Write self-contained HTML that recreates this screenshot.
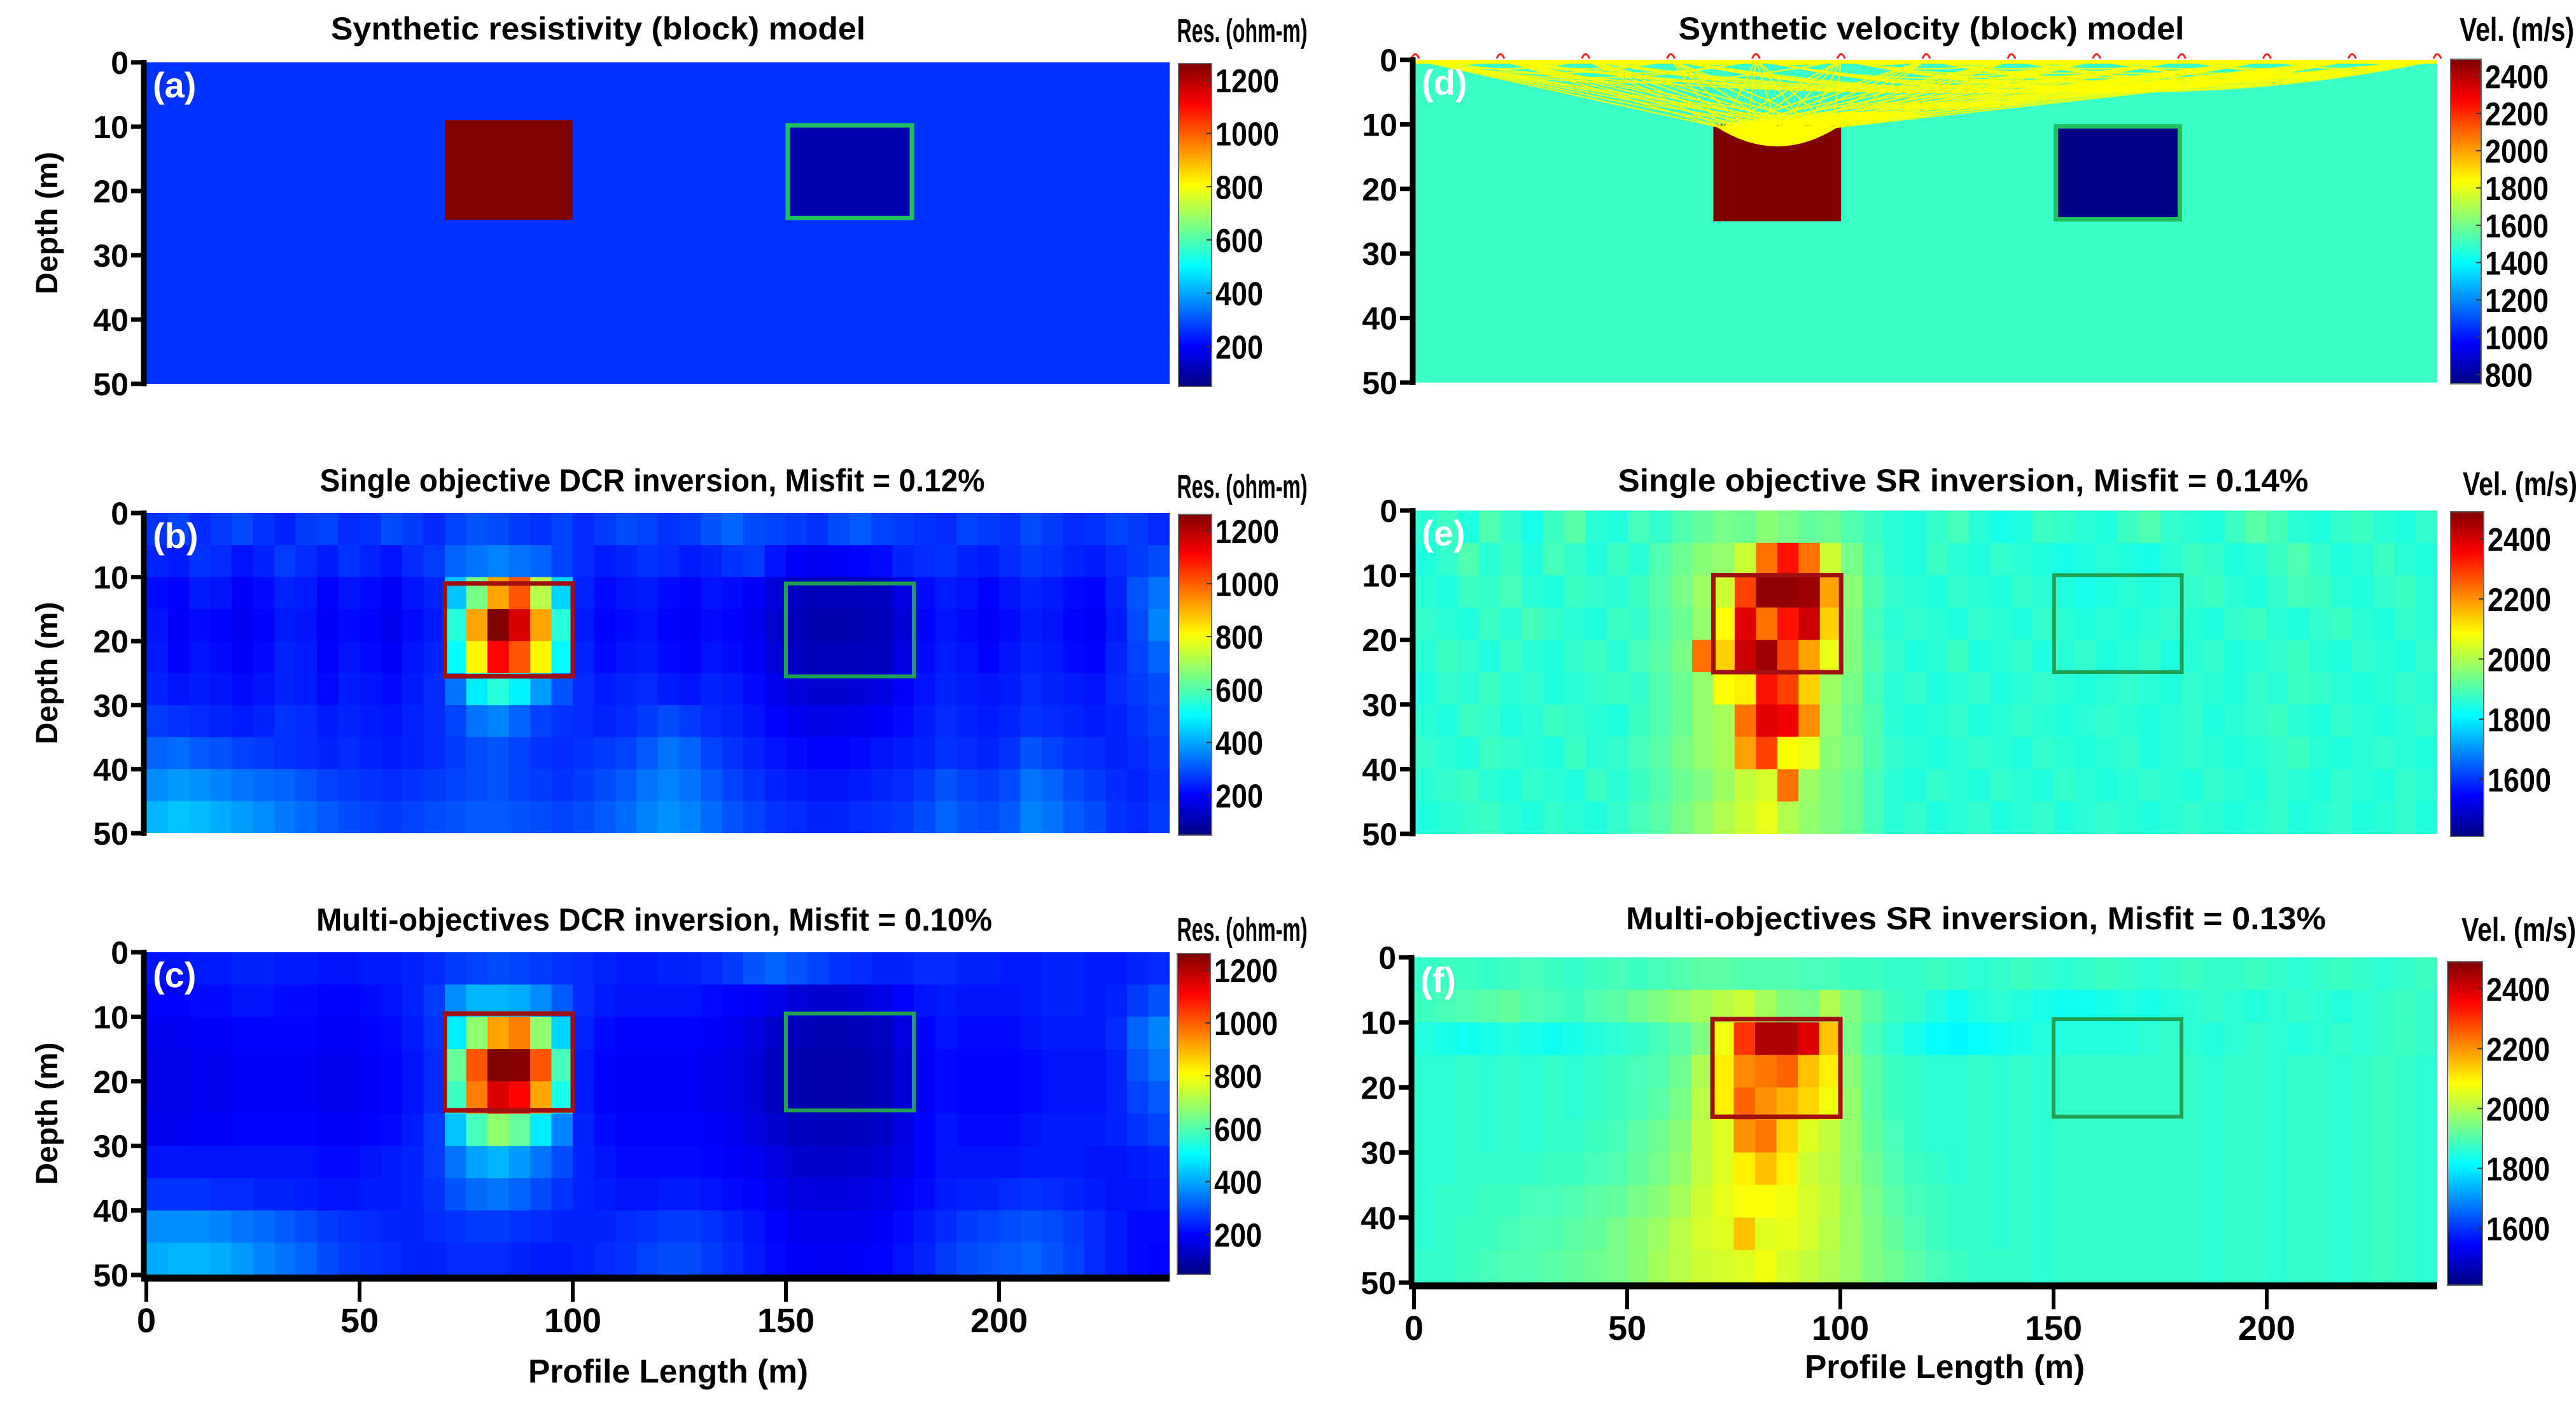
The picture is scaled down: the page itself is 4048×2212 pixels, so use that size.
<!DOCTYPE html>
<html><head><meta charset="utf-8"><style>
html,body{margin:0;padding:0;background:#fff;}
svg{display:block;font-family:"Liberation Sans",sans-serif;font-weight:bold;}
</style></head><body>
<svg id="fig" width="4048" height="2212" viewBox="0 0 4048 2212" xmlns="http://www.w3.org/2000/svg">
<defs>
<linearGradient id="jetg" x1="0" y1="1" x2="0" y2="0">
<stop offset="0" stop-color="#000080"/><stop offset="0.125" stop-color="#0000ff"/><stop offset="0.375" stop-color="#00ffff"/><stop offset="0.625" stop-color="#ffff00"/><stop offset="0.875" stop-color="#ff0000"/><stop offset="1" stop-color="#800000"/>
</linearGradient>
</defs>
</svg>
<script>
// ---------- DATA ----------
const xCellsM = 5, zCellsM = 5;
const depthTicks = [0,10,20,30,40,50];
const distTicks = [0,50,100,150,200];
const resTicks = [200,400,600,800,1000,1200];
const velTicksD = [800,1000,1200,1400,1600,1800,2000,2200,2400];
const velTicksEF = [1600,1800,2000,2200,2400];
// block models: [x0,x1,z0,z1,value]
const resBlocks = [[70,100,9,24.5,1260],[150,180,9.5,24.5,60]];
const velBlocks = [[70,100,10,25,2490],[150,180,10,25,760]];
const resBackground = 220;
const velBackground = 1500;
const sourceX = [0,20,40,60,80,100,120,140,160,180,200,220,240];

const dcrSingle = [
[220,240,210,230,250,220,200,230,240,210,220,250,230,210,240,260,250,230,220,240,210,230,250,240,220,230,260,280,250,240,230,220,250,270,240,230,220,210,240,230,220,250,230,210,220,240,230,210],
[200,190,220,210,180,200,230,210,190,220,200,180,210,230,280,300,320,300,280,240,210,190,200,220,210,190,200,220,230,180,150,140,150,160,170,200,210,220,200,190,210,230,220,200,190,210,230,250],
[170,160,190,180,150,170,200,190,160,180,170,150,180,200,400,620,900,1000,700,420,200,170,180,190,170,160,180,170,150,110,80,70,70,75,80,120,170,190,180,160,180,200,190,170,160,200,260,300],
[180,150,170,160,140,160,190,180,150,170,160,140,170,190,520,900,1260,1150,900,520,190,160,170,180,160,150,170,160,140,100,70,60,60,65,70,110,160,180,170,150,170,190,180,160,150,190,250,320],
[190,160,180,170,150,170,200,190,160,180,170,150,180,200,480,800,1100,1000,800,470,200,170,180,190,170,160,180,170,150,110,80,70,70,75,80,120,170,190,180,160,180,200,190,170,160,200,240,280],
[200,180,190,180,170,180,200,190,170,190,180,170,190,210,300,450,520,460,350,260,210,190,200,210,190,180,200,190,170,140,110,100,100,110,120,150,180,200,190,180,190,210,200,190,180,210,230,250],
[230,220,210,200,190,200,220,210,190,200,190,180,200,210,240,300,320,280,240,220,210,200,210,230,250,230,210,200,180,160,140,130,130,140,150,170,190,210,200,190,200,220,210,200,190,200,220,240],
[280,290,270,260,240,230,220,210,200,210,200,190,200,210,230,250,260,240,220,210,220,230,240,270,300,280,240,220,200,180,170,160,160,170,180,190,200,220,210,200,220,260,240,220,210,200,210,230],
[330,350,340,320,300,290,280,260,240,230,220,210,220,230,240,250,260,240,230,220,230,250,270,300,320,300,270,240,220,200,190,180,180,190,200,210,230,260,240,230,250,300,280,250,230,210,200,220],
[380,400,390,370,350,330,310,290,270,250,240,230,240,250,260,270,270,260,250,240,250,270,290,320,340,320,290,260,240,220,210,200,200,210,220,230,250,280,260,250,270,320,300,270,250,220,210,230]];

const dcrMulti = [
[180,180,190,190,200,200,190,190,180,180,190,190,200,210,230,240,250,240,230,220,210,200,190,190,200,200,210,230,260,280,260,240,220,210,200,200,210,210,200,200,190,190,200,200,190,190,200,210],
[160,160,170,170,180,180,170,170,160,160,170,180,200,230,330,380,380,370,330,270,210,190,180,180,180,180,170,160,150,130,110,100,100,110,130,160,180,190,180,180,180,190,200,200,190,200,230,260],
[140,140,150,150,160,160,160,160,150,150,160,170,190,220,450,650,900,950,650,420,200,170,160,160,160,160,150,140,120,90,70,65,65,70,80,120,160,180,170,170,170,180,190,190,190,210,280,320],
[130,130,140,140,150,150,150,150,140,140,150,160,180,210,600,1000,1260,1250,1000,560,190,160,150,150,150,150,140,130,110,80,60,55,55,60,70,110,150,170,160,160,160,170,180,180,180,200,260,300],
[130,130,140,140,150,150,150,150,140,140,150,160,180,210,550,950,1150,1100,900,500,190,160,150,150,150,150,140,130,110,80,60,55,55,60,70,110,150,170,160,160,160,170,180,180,180,200,240,270],
[140,140,150,150,160,160,160,160,150,150,160,170,190,230,400,560,650,600,450,320,200,170,160,160,160,160,150,140,120,100,80,75,75,80,90,120,160,180,170,170,170,180,190,190,190,200,220,240],
[180,180,180,180,180,180,180,180,170,170,180,190,200,230,300,360,380,350,300,250,200,180,170,170,170,170,160,150,140,120,100,95,95,100,110,130,160,180,180,180,180,190,190,190,180,180,190,200],
[220,220,220,210,210,200,200,190,180,180,190,190,200,220,260,290,300,280,250,220,200,190,180,180,190,190,180,170,160,140,120,115,115,120,130,150,170,190,200,200,210,220,210,200,190,180,180,190],
[330,330,330,320,300,290,270,250,230,220,210,200,200,210,220,230,230,220,210,200,200,200,210,220,230,230,220,200,180,160,140,135,135,140,150,170,190,210,230,240,250,260,250,230,210,190,170,170],
[370,380,380,370,350,320,300,280,250,230,220,210,200,200,210,210,210,200,190,190,200,210,220,240,250,250,230,210,190,170,150,145,145,150,160,180,200,230,250,260,270,280,260,240,210,190,170,160]];

const srSingle = [
[1880,1900,1870,1920,1890,1860,1900,1930,1880,1870,1910,1890,1920,1940,1960,1950,1980,1960,1940,1950,1920,1900,1880,1870,1890,1910,1880,1860,1870,1900,1890,1880,1870,1900,1920,1890,1880,1870,1900,1930,1910,1880,1870,1890,1900,1880,1870,1890],
[1870,1890,1920,1880,1900,1870,1910,1890,1870,1900,1880,1920,1950,1980,1990,2050,2250,2350,2250,2050,1960,1910,1880,1870,1900,1880,1870,1890,1880,1870,1860,1870,1880,1870,1860,1880,1900,1890,1870,1880,1900,1920,1890,1870,1880,1900,1880,1870],
[1880,1870,1900,1890,1910,1880,1870,1900,1890,1880,1900,1930,1960,2000,2050,2300,2480,2480,2470,2200,1980,1920,1890,1880,1870,1890,1880,1870,1890,1880,1870,1860,1870,1880,1870,1880,1890,1900,1880,1870,1890,1910,1900,1880,1870,1890,1900,1880],
[1890,1880,1870,1900,1880,1910,1890,1880,1870,1900,1890,1920,1950,1990,2100,2400,2250,2350,2420,2150,1970,1910,1880,1890,1880,1870,1890,1880,1870,1890,1880,1870,1880,1870,1880,1890,1880,1870,1890,1900,1880,1870,1890,1900,1880,1870,1890,1880],
[1880,1900,1890,1870,1900,1880,1870,1890,1900,1880,1910,1930,1960,2250,2150,2420,2470,2300,2200,2080,1970,1920,1890,1870,1880,1900,1870,1880,1890,1870,1880,1890,1870,1880,1890,1870,1880,1890,1870,1880,1890,1900,1880,1870,1890,1880,1870,1890],
[1870,1890,1880,1900,1880,1890,1870,1880,1890,1900,1890,1920,1950,1990,2100,2120,2350,2300,2150,2000,1960,1910,1880,1890,1870,1880,1890,1870,1880,1890,1880,1870,1880,1890,1880,1870,1890,1880,1870,1890,1880,1900,1890,1880,1870,1880,1890,1880],
[1880,1870,1900,1890,1870,1880,1900,1890,1880,1870,1900,1920,1950,1990,2010,2250,2400,2380,2220,1990,1950,1920,1880,1870,1880,1890,1870,1880,1890,1880,1870,1880,1890,1880,1870,1880,1890,1870,1880,1890,1900,1880,1870,1890,1880,1870,1880,1890],
[1890,1880,1870,1900,1890,1880,1870,1900,1880,1890,1910,1930,1960,1990,2010,2200,2300,2100,2080,1980,1960,1920,1890,1880,1870,1880,1890,1880,1870,1890,1880,1870,1880,1890,1870,1880,1890,1880,1870,1880,1890,1900,1880,1870,1880,1890,1880,1870],
[1880,1890,1900,1880,1870,1890,1880,1870,1900,1880,1900,1920,1950,1970,2000,2040,2060,2250,2000,1970,1950,1910,1880,1870,1890,1880,1870,1890,1880,1870,1890,1880,1870,1880,1890,1880,1870,1890,1880,1870,1890,1880,1870,1890,1880,1870,1890,1880],
[1870,1880,1890,1900,1880,1870,1890,1880,1870,1890,1910,1930,1960,1990,2020,2050,2080,2020,1990,1970,1950,1910,1880,1890,1870,1880,1890,1870,1880,1890,1870,1880,1890,1880,1870,1880,1890,1880,1870,1880,1890,1870,1880,1890,1870,1880,1890,1870]];

const srMulti = [
[1920,1930,1930,1920,1930,1940,1930,1920,1930,1940,1930,1940,1950,1960,1960,1950,1950,1950,1940,1940,1930,1930,1920,1920,1930,1920,1910,1920,1930,1920,1910,1920,1930,1920,1910,1920,1930,1920,1920,1930,1920,1910,1920,1930,1920,1910,1920,1930],
[1930,1940,1950,1960,1970,1950,1940,1930,1950,1960,1980,2000,2020,2040,2060,2080,2040,2000,1990,2050,2000,1960,1930,1920,1900,1880,1900,1910,1900,1890,1880,1880,1890,1900,1890,1900,1910,1920,1910,1900,1910,1920,1910,1900,1910,1920,1930,1920],
[1900,1890,1880,1890,1900,1890,1880,1890,1900,1910,1920,1940,1960,2000,2120,2350,2490,2490,2440,2200,1990,1940,1910,1890,1870,1860,1870,1880,1890,1900,1900,1900,1900,1900,1910,1920,1910,1900,1910,1920,1910,1900,1910,1920,1910,1920,1930,1920],
[1910,1910,1920,1910,1920,1910,1920,1910,1920,1930,1940,1950,1980,2050,2150,2260,2280,2300,2200,2150,2010,1960,1930,1920,1910,1910,1920,1910,1920,1910,1920,1920,1920,1920,1920,1920,1920,1910,1920,1920,1910,1920,1920,1910,1920,1930,1920,1910],
[1910,1910,1920,1910,1920,1910,1920,1910,1920,1930,1940,1960,1990,2060,2150,2300,2250,2220,2180,2120,2020,1960,1930,1920,1910,1910,1920,1910,1920,1910,1920,1920,1920,1920,1920,1920,1920,1910,1920,1920,1910,1920,1920,1910,1920,1930,1920,1910],
[1910,1910,1920,1910,1920,1910,1920,1920,1930,1940,1960,1980,2010,2070,2100,2250,2280,2180,2100,2070,2020,1970,1940,1920,1910,1910,1920,1910,1920,1910,1920,1920,1920,1920,1920,1920,1920,1910,1920,1920,1910,1920,1920,1910,1920,1930,1920,1910],
[1910,1910,1920,1920,1920,1920,1930,1930,1940,1950,1970,1990,2020,2070,2100,2150,2200,2150,2080,2060,2020,1980,1950,1930,1920,1910,1920,1910,1920,1910,1920,1920,1920,1920,1920,1920,1920,1910,1920,1920,1910,1920,1920,1910,1920,1930,1920,1910],
[1910,1920,1920,1930,1930,1940,1940,1950,1960,1970,1990,2010,2040,2080,2110,2130,2130,2120,2090,2070,2030,1990,1960,1940,1930,1920,1920,1910,1920,1910,1920,1920,1920,1920,1920,1920,1920,1910,1920,1920,1910,1920,1920,1910,1920,1930,1920,1910],
[1910,1920,1930,1930,1940,1950,1950,1960,1970,1990,2010,2030,2060,2090,2100,2200,2100,2110,2090,2060,2030,2000,1970,1950,1930,1920,1920,1910,1920,1910,1920,1920,1920,1920,1920,1920,1920,1910,1920,1920,1910,1920,1920,1910,1920,1930,1920,1910],
[1920,1920,1930,1940,1950,1950,1960,1970,1980,1990,2010,2040,2060,2080,2090,2100,2120,2090,2070,2050,2030,2000,1980,1960,1940,1930,1920,1920,1920,1910,1920,1920,1920,1920,1920,1920,1920,1910,1920,1920,1910,1920,1920,1910,1920,1930,1920,1910]];

// ---------- LAYOUT ----------
const panels = [
 {id:'a',L:230,R:1838,T:98,B:603,xmax:240,vmin:0,vmax:1262,cb:[1852,1904,100,607],ticks:resTicks,unit:'Res. (ohm-m)',unitX:1952,unitY:66,title:'Synthetic resistivity (block) model',tx:940,ty:62,tw:840,kind:'block',blocks:resBlocks,bg:resBackground,red:null,green:null},
 {id:'b',L:230,R:1838,T:806,B:1309,xmax:240,vmin:0,vmax:1262,cb:[1852,1904,808,1312],ticks:resTicks,unit:'Res. (ohm-m)',unitX:1952,unitY:782,title:'Single objective DCR inversion, Misfit = 0.12%',tx:1025,ty:772,tw:1045,kind:'grid',grid:dcrSingle,red:[70,100,11,25.5],green:[150,180,11,25.5]},
 {id:'c',L:230,R:1838,T:1496,B:2003,xmax:240,vmin:0,vmax:1262,cb:[1850,1902,1498,2002],ticks:resTicks,unit:'Res. (ohm-m)',unitX:1952,unitY:1478,title:'Multi-objectives DCR inversion, Misfit = 0.10%',tx:1028,ty:1462,tw:1062,kind:'grid',grid:dcrMulti,red:[70,100,9.5,24.5],green:[150,180,9.5,24.5],xaxis:true,xlabY:2172},
 {id:'d',L:2224,R:3830,T:94,B:601,xmax:240,vmin:750,vmax:2490,cb:[3851,3899,93,603],ticks:velTicksD,unit:'Vel. (m/s)',unitX:3955,unitY:64,title:'Synthetic velocity (block) model',tx:3035,ty:62,tw:795,kind:'block',blocks:velBlocks,bg:velBackground,rays:true},
 {id:'e',L:2224,R:3830,T:802,B:1310,xmax:240,vmin:1440,vmax:2500,cb:[3851,3903,804,1314],ticks:velTicksEF,unit:'Vel. (m/s)',unitX:3960,unitY:778,title:'Single objective SR inversion, Misfit = 0.14%',tx:3085,ty:772,tw:1085,kind:'grid',grid:srSingle,red:[70,100,10,25],green:[150,180,10,25]},
 {id:'f',L:2222,R:3830,T:1504,B:2015,xmax:240,vmin:1460,vmax:2540,cb:[3846,3901,1511,2019],ticks:velTicksEF,unit:'Vel. (m/s)',unitX:3958,unitY:1478,title:'Multi-objectives SR inversion, Misfit = 0.13%',tx:3105,ty:1460,tw:1100,kind:'grid',grid:srMulti,red:[70,100,9.5,24.5],green:[150,180,9.5,24.5],xaxis:true,xlabY:2165}
];

const NS='http://www.w3.org/2000/svg';
const svg=document.getElementById('fig');
function el(tag,attrs,parent){const e=document.createElementNS(NS,tag);for(const k in attrs)e.setAttribute(k,attrs[k]);(parent||svg).appendChild(e);return e;}
function clamp(v){return Math.max(0,Math.min(1,v));}
function jet(t){t=clamp(t);const r=clamp(1.5-Math.abs(4*t-3)),g=clamp(1.5-Math.abs(4*t-2)),b=clamp(1.5-Math.abs(4*t-1));
 return 'rgb('+Math.round(r*255)+','+Math.round(g*255)+','+Math.round(b*255)+')';}

panels.forEach(p=>{
 const g=el('g',{});
 
 
 const xs=m=>p.L+(p.R-p.L)*m/p.xmax;
 const ys=d=>p.T+(p.B-p.T)*d/50;
 const col=v=>jet((v-p.vmin)/(p.vmax-p.vmin));
 const cg=el('clipPath',{id:'clip'+p.id},g);
 el('rect',{x:p.L,y:p.T,width:p.R-p.L,height:p.B-p.T},cg);
 const hm=el('g',{'clip-path':'url(#clip'+p.id+')'},g);
 
 
 if(p.kind==='block'){
  const bgr=el('rect',{x:p.L,y:p.T,width:p.R-p.L,height:p.B-p.T,fill:col(p.bg)},hm);
  
  
  p.blocks.forEach((b,i)=>{
   const r=el('rect',{x:xs(b[0]),y:ys(b[2]),width:xs(b[1])-xs(b[0]),height:ys(b[3])-ys(b[2]),fill:col(b[4])},hm);
   
   
   if(i===1){el('rect',{x:xs(b[0])+3,y:ys(b[2])+3,width:xs(b[1])-xs(b[0])-6,height:ys(b[3])-ys(b[2])-6,fill:'none',stroke:'#20c060','stroke-width':7},hm);}
  });
  if(p.rays){
   const rg=el('g',{stroke:'#ffff00','stroke-width':2.5,fill:'none','stroke-opacity':0.85},hm);
   
   
   sourceX.forEach(s=>{sourceX.forEach(r=>{
    if(r<=s) return;
    const mid=(s+r)/2, off=r-s;
    if(mid>=60&&mid<=110&&off>=40) return;
    const d=Math.min(off*0.035,5);
    el('path',{d:'M'+xs(s)+','+ys(0)+' Q'+xs(mid)+','+ys(2*d)+' '+xs(r)+','+ys(0)},rg);
   });});
   sourceX.forEach(s=>{[72,78,85,92,98].forEach(t=>{el('line',{x1:xs(s),y1:ys(0),x2:xs(t),y2:ys(10.5)},rg);});});
   el('path',{d:'M'+xs(70.5)+','+ys(10.3)+' Q'+xs(85)+','+ys(16.5)+' '+xs(99.5)+','+ys(10.3)+' Z',fill:'#ffff00',stroke:'none'},hm);
   el('rect',{x:p.L,y:p.T,width:p.R-p.L,height:6,fill:'#ffff00'},hm);
   const sg=el('g',{},g);
   
   
   sourceX.forEach(s=>{el('path',{d:'M'+(xs(s)-6)+','+(ys(0)-2)+' q6,-14 12,0',stroke:'#ff2020','stroke-width':3,fill:'none'},sg);});
  }
 } else {
  p.grid.forEach((row,ri)=>{row.forEach((v,ci)=>{
   const c=el('rect',{x:xs(ci*xCellsM),y:ys(ri*zCellsM),width:xs((ci+1)*xCellsM)-xs(ci*xCellsM)+1,height:ys((ri+1)*zCellsM)-ys(ri*zCellsM)+1,fill:col(v)},hm);
   
   
  });});
 }
 if(p.red){const r=el('rect',{x:xs(p.red[0]),y:ys(p.red[2]),width:xs(p.red[1])-xs(p.red[0]),height:ys(p.red[3])-ys(p.red[2]),fill:'none',stroke:'#a01010','stroke-width':7},g);
  }
 if(p.green){const r=el('rect',{x:xs(p.green[0]),y:ys(p.green[2]),width:xs(p.green[1])-xs(p.green[0]),height:ys(p.green[3])-ys(p.green[2]),fill:'none',stroke:'#20a050','stroke-width':6},g);
  }
 const lab=el('text',{x:p.L+10,y:p.T+55,fill:'#fff','font-size':56},g);lab.textContent='('+p.id+')';
 
 const ya=el('g',{},g);
 el('line',{x1:p.L-4,y1:p.T-4,x2:p.L-4,y2:p.B+4,stroke:'#000','stroke-width':9},ya);
 depthTicks.forEach(t=>{const y=ys(t);el('line',{x1:p.L-24,y1:y,x2:p.L,y2:y,stroke:'#000','stroke-width':7},ya);
  const tt=el('text',{x:p.L-28,y:y+18,'text-anchor':'end','font-size':50},ya);tt.textContent=t;
  });
 if(p.id<'d'){const yl=el('text',{x:0,y:0,transform:'translate(90,'+((p.T+p.B)/2)+') rotate(-90)','text-anchor':'middle','font-size':48},g);yl.textContent='Depth (m)';
  }
 if(p.xaxis){const xa=el('g',{},g);
  el('line',{x1:p.L-8,y1:p.B+5,x2:p.R,y2:p.B+5,stroke:'#000','stroke-width':11},xa);
  distTicks.forEach(t=>{const x=xs(t);el('line',{x1:x,y1:p.B,x2:x,y2:p.B+42,stroke:'#000','stroke-width':6},xa);
   const tt=el('text',{x:x,y:p.B+90,'text-anchor':'middle','font-size':54},xa);tt.textContent=t;
   });
  const xt=el('text',{x:(p.L+p.R)/2+(p.id==='c'?16:30),y:p.xlabY,'text-anchor':'middle','font-size':52,textLength:440,lengthAdjust:'spacingAndGlyphs'},g);xt.textContent='Profile Length (m)';
  }
 const ti=el('text',{x:p.tx,y:p.ty,'text-anchor':'middle','font-size':50,textLength:p.tw,lengthAdjust:'spacingAndGlyphs'},g);ti.textContent=p.title;
 
 const cb=el('g',{},g);
 const [cx0,cx1,cy0,cy1]=p.cb;
 el('rect',{x:cx0,y:cy0,width:cx1-cx0,height:cy1-cy0,fill:'url(#jetg)',stroke:'#666','stroke-width':2},cb);
 const cys=v=>cy1-(cy1-cy0)*(v-p.cmin)/(p.cmax-p.cmin);
 p.cmin = p.id<'d' ? 50 : (p.id==='d'?750:1410);
 p.cmax = p.id<'d' ? 1262 : 2490;
 p.ticks.forEach(t=>{const y=cys(t);el('line',{x1:cx1-8,y1:y,x2:cx1,y2:y,stroke:'#333','stroke-width':2},cb);
  const tt=el('text',{x:cx1+6,y:y+19,'font-size':52,textLength:String(t).length*25,lengthAdjust:'spacingAndGlyphs'},cb);tt.textContent=t;
  });
 const ut=el('text',{x:p.unitX,y:p.unitY,'text-anchor':'middle','font-size':52,textLength:p.unit.length>11?205:180,lengthAdjust:'spacingAndGlyphs'},cb);ut.textContent=p.unit;
 
});
</script>
</body></html>
